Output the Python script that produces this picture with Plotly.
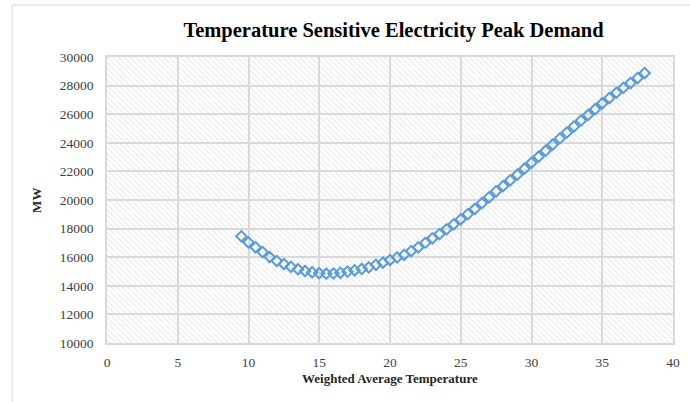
import plotly.graph_objects as go

temperature = [9.5, 10, 10.5, 11, 11.5, 12, 12.5, 13, 13.5, 14, 14.5, 15, 15.5, 16, 16.5,
               17, 17.5, 18, 18.5, 19, 19.5, 20, 20.5, 21, 21.5, 22, 22.5, 23, 23.5, 24,
               24.5, 25, 25.5, 26, 26.5, 27, 27.5, 28, 28.5, 29, 29.5, 30, 30.5, 31, 31.5,
               32, 32.5, 33, 33.5, 34, 34.5, 35, 35.5, 36, 36.5, 37, 37.5, 38]
demand_mw = [17460, 17040, 16690, 16360, 16010, 15730, 15520, 15330, 15160, 15040, 14950,
             14880, 14850, 14860, 14910, 14990, 15080, 15180, 15290, 15470, 15620, 15800,
             15980, 16170, 16430, 16690, 17010, 17320, 17620, 17950, 18300, 18650, 19010,
             19380, 19780, 20190, 20610, 20980, 21380, 21770, 22190, 22610, 23030, 23450,
             23880, 24300, 24720, 25140, 25560, 25950, 26350, 26760, 27130, 27500, 27850,
             28180, 28530, 28880]

x_range = [0, 40]
y_range = [10000, 30000]
title_text = "Temperature Sensitive Electricity Peak Demand"
x_title = "Weighted Average Temperature"
y_title = "MW"

FONT = "Liberation Serif"
GRID = "#d9d9d9"

fig = go.Figure()

# hatched plot-area background
fig.add_trace(go.Scatter(
    x=[x_range[0], x_range[1], x_range[1], x_range[0], x_range[0]],
    y=[y_range[0], y_range[0], y_range[1], y_range[1], y_range[0]],
    mode="none", fill="toself", fillcolor="rgba(0,0,0,0)",
    fillpattern=dict(shape="\\", fgcolor="#dcdcdc", size=4, solidity=0.22, fillmode="replace"),
    hoverinfo="skip", showlegend=False,
))

fig.add_trace(go.Scatter(
    x=temperature, y=demand_mw, mode="markers",
    marker=dict(symbol="diamond-open", size=8, color="#5b9bd5",
                line=dict(width=2, color="#5b9bd5")),
    showlegend=False,
))

L, R, T, B = 107, 10, 57, 59
W, H = 690, 402
pw, ph = W - L - R, H - T - B

fig.update_layout(
    width=W, height=H,
    margin=dict(l=L, r=R, t=T, b=B),
    paper_bgcolor="white", plot_bgcolor="white",
    font=dict(family=FONT, size=13, color="#404040"),
    title=dict(text="<b>" + title_text + "</b>", x=(L + pw / 2) / W, xanchor="center",
               y=1 - 30 / H, yanchor="middle",
               font=dict(family=FONT, size=20.5, color="black")),
    xaxis=dict(range=x_range, dtick=5, tick0=0, showgrid=True, gridcolor=GRID, gridwidth=1.5,
               zeroline=False, showline=True, linecolor=GRID, linewidth=1.5, mirror=True,
               ticks="", ticklabelstandoff=6, tickfont=dict(family=FONT, size=13.5, color="#404040")),
    yaxis=dict(range=y_range, dtick=2000, showgrid=True, gridcolor=GRID, gridwidth=1.5,
               zeroline=False, showline=True, linecolor=GRID, linewidth=1.5, mirror=True,
               ticks="", ticklabelstandoff=9, tickformat="d",
               tickfont=dict(family=FONT, size=13.5, color="#404040")),
    annotations=[
        dict(text="<b>" + x_title + "</b>", xref="paper", yref="paper",
             x=0.5, y=-(378 - (H - B)) / ph, xanchor="center", yanchor="middle",
             showarrow=False, font=dict(family=FONT, size=13, color="#262626")),
        dict(text="<b>" + y_title + "</b>", xref="paper", yref="paper",
             x=(35 - L) / pw, y=0.5, xanchor="center", yanchor="middle", textangle=-90,
             showarrow=False, font=dict(family=FONT, size=13, color="#262626")),
    ],
    shapes=[dict(type="rect", xref="paper", yref="paper",
                 x0=(11 - L) / pw, x1=(W + 20 - L) / pw,
                 y0=-(H + 20 - (H - B)) / ph, y1=((H - B) - 5) / ph,
                 line=dict(color=GRID, width=1), layer="below")],
)

fig.write_html("out.html")
